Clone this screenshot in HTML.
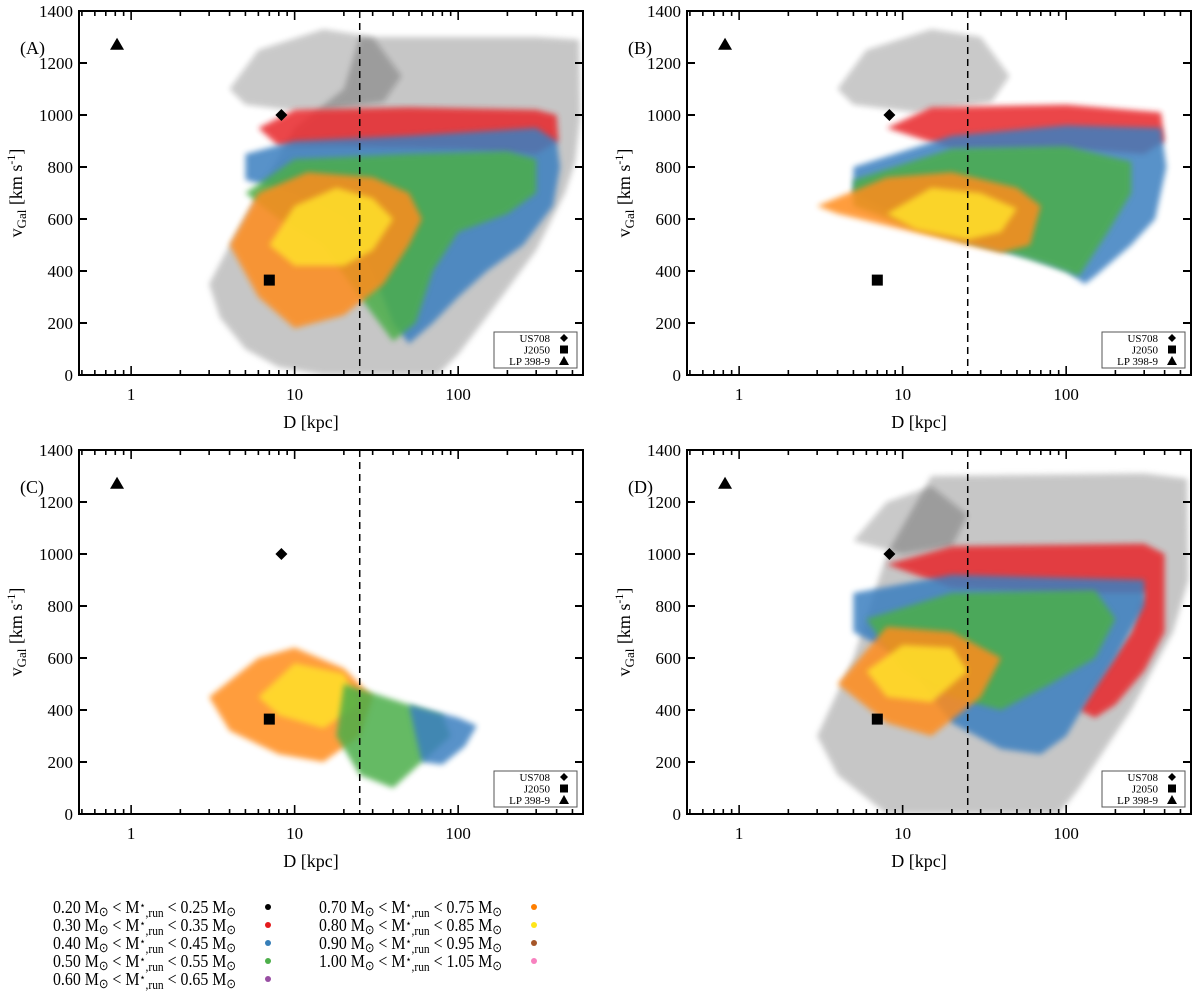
<!DOCTYPE html>
<html><head><meta charset="utf-8">
<style>
html,body{margin:0;padding:0;background:#fff;}
svg{display:block;font-family:"Liberation Serif",serif;}
</style></head>
<body>
<svg id="chart" width="1200" height="993" viewBox="0 0 1200 993" xmlns="http://www.w3.org/2000/svg">
<defs>
<filter id="soft" x="-10%" y="-10%" width="120%" height="120%"><feGaussianBlur stdDeviation="3"/></filter>
</defs>
</svg>
<script>
// ---- data (D in kpc, v in km/s) ----
const yTicks = [0,200,400,600,800,1000,1200,1400];
const xMajor = [1,10,100];
const xMajorLabels = ["1","10","100"];
const panelLabels = ["(A)","(B)","(C)","(D)"];
const starNames = ["US708","J2050","LP 398-9"];
const starD = [8.3, 7.0, 0.82];
const starV = [1000, 365, 1270];
const cutD = 25;

const colors = {grey:"#bdbdbd",black:"#111",red:"#e8262a",blue:"#3a7fc0",green:"#4cae4a",orange:"#ff8c1a",yellow:"#ffe02a"};

// Panel A clouds
const A_grey = [[25,1300],[300,1300],[550,1290],[560,1000],[520,820],[450,700],[300,480],[200,330],[140,200],[100,80],[75,0],[15,0],[8,30],[5,100],[3.5,220],[3,350],[4,500],[6,700],[10,950],[20,1100]];
const A_black = [[4,1100],[6,1250],[15,1330],[30,1300],[45,1150],[35,1050],[12,1010],[5,1040]];
const A_red = [[6,950],[10,1020],[50,1030],[300,1020],[400,1000],[410,900],[300,850],[100,870],[20,880],[8,880]];
const A_blue = [[5,850],[10,900],[50,920],[300,950],[400,900],[420,800],[380,650],[250,500],[150,400],[100,300],[70,200],[50,120],[40,200],[30,400],[20,600],[10,700],[5,750]];
const A_green = [[5,700],[10,830],[50,850],[200,860],[300,830],[300,700],[200,620],[100,550],[70,400],[55,200],[40,130],[25,300],[15,500],[8,600]];
const A_orange = [[4,500],[6,700],[12,780],[30,760],[50,700],[60,600],[50,500],[35,350],[20,230],[10,180],[6,300]];
const A_yellow = [[7,500],[10,650],[18,720],[30,680],[40,600],[30,480],[20,420],[10,420]];

// Panel B clouds
const B_black = [[4,1100],[6,1250],[15,1330],[30,1300],[45,1150],[35,1050],[12,1010],[5,1040]];
const B_red = [[8,950],[15,1030],[100,1040],[380,1010],[400,900],[300,850],[100,870],[20,870]];
const B_blue = [[5,800],[20,920],[100,960],[380,950],[410,800],[350,600],[250,500],[150,380],[130,350],[100,400],[60,450],[30,500],[10,600],[5,700]];
const B_green = [[5,750],[20,870],[100,880],[250,820],[250,700],[180,550],[120,380],[80,420],[40,480],[25,510],[10,580],[5,650]];
const B_orange = [[3,650],[8,760],[20,780],[50,720],[70,650],[60,500],[40,470],[25,500],[10,560],[4,620]];
const B_yellow = [[8,620],[15,720],[30,700],[50,640],[40,550],[25,520],[12,560]];

// Panel C clouds
const C_orange = [[3,450],[6,600],[10,640],[20,560],[30,450],[25,300],[15,200],[8,230],[4,320]];
const C_yellow = [[6,450],[10,580],[20,540],[25,420],[15,330],[8,380]];
const C_green = [[20,500],[40,440],[80,380],[90,300],[60,200],[40,100],[25,150],[18,300]];
const C_blue = [[50,420],[100,370],[130,340],[110,260],[80,190],[60,200],[55,300]];

// Panel D clouds
const D_grey = [[15,1300],[300,1310],[550,1290],[560,900],[450,700],[250,400],[120,100],[90,0],[8,0],[4,150],[3,300],[5,600],[8,1000]];
const D_black = [[5,1050],[8,1200],[15,1260],[25,1150],[20,1030],[10,1000]];
const D_red = [[8,960],[20,1030],[300,1040],[400,1000],[400,700],[300,550],[200,420],[150,370],[120,400],[150,500],[250,700],[300,850],[100,850],[20,870]];
const D_blue = [[5,850],[20,920],[300,900],[300,800],[200,600],[130,420],[100,300],[70,230],[40,250],[20,350],[10,600],[5,700]];
const D_green = [[6,750],[20,850],[150,860],[200,750],[150,600],[80,500],[40,400],[20,450],[10,550]];
const D_orange = [[4,500],[8,720],[20,700],[40,600],[30,450],[15,300],[8,350]];
const D_yellow = [[6,550],[10,650],[20,640],[25,550],[15,430],[8,450]];

const panelClouds = [
  [["grey",A_grey],["black",A_black],["red",A_red],["blue",A_blue],["green",A_green],["orange",A_orange],["yellow",A_yellow]],
  [["black",B_black],["red",B_red],["blue",B_blue],["green",B_green],["orange",B_orange],["yellow",B_yellow]],
  [["orange",C_orange],["yellow",C_yellow],["green",C_green],["blue",C_blue]],
  [["grey",D_grey],["black",D_black],["red",D_red],["blue",D_blue],["green",D_green],["orange",D_orange],["yellow",D_yellow]]
];

const legendLabels = ["0.20","0.30","0.40","0.50","0.60","0.70","0.80","0.90","1.00"];
const legendLabelsHi = ["0.25","0.35","0.45","0.55","0.65","0.75","0.85","0.95","1.05"];
const legendColors = ["#000","#e41a1c","#377eb8","#4daf4a","#984ea3","#ff7f00","#ffe619","#a65628","#f781bf"];

// ---- layout ----
const NS="http://www.w3.org/2000/svg";
const svg=document.getElementById('chart');
const panels=[{x:79,y:11},{x:687,y:11},{x:79,y:450},{x:687,y:450}];
const W=504,H=364;
const DMIN=0.48, DMAX=580;
function mk(tag,attrs,parent){const e=document.createElementNS(NS,tag);for(const k in attrs)e.setAttribute(k,attrs[k]);(parent||svg).appendChild(e);return e;}
function xs(p,D){return p.x+(Math.log10(D)-Math.log10(DMIN))/(Math.log10(DMAX)-Math.log10(DMIN))*W;}
function ys(p,v){return p.y+H-v/1400*H;}

panels.forEach((p,i)=>{
  const g=mk('g',{});
  
  
  const cp=mk('clipPath',{id:'cp'+i},g);
  mk('rect',{x:p.x,y:p.y,width:W,height:H},cp);
  const cg=mk('g',{'clip-path':'url(#cp'+i+')'},g);
  panelClouds[i].forEach(([c,pts])=>{
    const d=pts.map((q,k)=>(k?'L':'M')+xs(p,q[0]).toFixed(1)+','+ys(p,q[1]).toFixed(1)).join('')+'Z';
    const el=mk('path',{d:d,fill:colors[c],opacity:c==='black'?0.22:0.85,filter:'url(#soft)'},cg);
    
    
  });
  const dl=mk('line',{x1:xs(p,cutD),x2:xs(p,cutD),y1:p.y,y2:p.y+H,stroke:'#000','stroke-width':1.5,'stroke-dasharray':'7,5'},g);
  
  
  mk('rect',{x:p.x,y:p.y,width:W,height:H,fill:'none',stroke:'#000','stroke-width':2},g);
  yTicks.forEach(v=>{
    const y=ys(p,v);
    mk('line',{x1:p.x,x2:p.x+8,y1:y,y2:y,stroke:'#000','stroke-width':2},g);
    mk('line',{x1:p.x+W,x2:p.x+W-8,y1:y,y2:y,stroke:'#000','stroke-width':2},g);
    const t=mk('text',{x:p.x-6,y:y+6,'text-anchor':'end','font-size':17},g);t.textContent=v;
    
    
  });
  for(let e=-1;e<=2;e++){for(let m=1;m<=9;m++){const D=m*Math.pow(10,e);if(D<DMIN||D>DMAX)continue;const x=xs(p,D);const L=m===1?9:5;
    mk('line',{x1:x,x2:x,y1:p.y+H,y2:p.y+H-L,stroke:'#000','stroke-width':1.6},g);
    mk('line',{x1:x,x2:x,y1:p.y,y2:p.y+L,stroke:'#000','stroke-width':1.6},g);}}
  xMajor.forEach((D,k)=>{const t=mk('text',{x:xs(p,D),y:p.y+H+25,'text-anchor':'middle','font-size':17},g);t.textContent=xMajorLabels[k];
    
    });
  const xl=mk('text',{x:p.x+W/2-20,y:p.y+H+53,'text-anchor':'middle','font-size':18},g);xl.textContent='D [kpc]';
  
  
  const yl=mk('text',{transform:`translate(${p.x-57},${p.y+182}) rotate(-90)`,'text-anchor':'middle','font-size':18},g);
  yl.innerHTML='v<tspan font-size="13" dy="4">Gal</tspan><tspan dy="-4"> [km s</tspan><tspan font-size="12" dy="-7">-1</tspan><tspan dy="7">]</tspan>';
  
  
  const pl=mk('text',{x:p.x-59,y:p.y+43,'font-size':18},g);pl.textContent=panelLabels[i];
  
  
  const sx=starD.map(D=>xs(p,D)), sy=starV.map(v=>ys(p,v));
  const s1=mk('path',{d:`M${sx[0]},${sy[0]-6}L${sx[0]+6},${sy[0]}L${sx[0]},${sy[0]+6}L${sx[0]-6},${sy[0]}Z`,fill:'#000'},g);
  
  
  const s2=mk('rect',{x:sx[1]-5.5,y:sy[1]-5.5,width:11,height:11,fill:'#000'},g);
  
  
  const s3=mk('path',{d:`M${sx[2]},${sy[2]-7}L${sx[2]+7},${sy[2]+5}L${sx[2]-7},${sy[2]+5}Z`,fill:'#000'},g);
  
  
  const lg=mk('g',{},g);
  
  
  const lx=p.x+415, ly=p.y+321;
  mk('rect',{x:lx,y:ly,width:83,height:36,fill:'#fff',stroke:'#555','stroke-width':1},lg);
  starNames.forEach((n,k)=>{const t=mk('text',{x:lx+56,y:ly+10+k*11.5,'text-anchor':'end','font-size':11},lg);t.textContent=n;
    
    
    const cx=lx+70, cy=ly+6+k*11.5;
    if(k===0)mk('path',{d:`M${cx},${cy-4}L${cx+4},${cy}L${cx},${cy+4}L${cx-4},${cy}Z`},lg);
    if(k===1)mk('rect',{x:cx-4,y:cy-4,width:8,height:8},lg);
    if(k===2)mk('path',{d:`M${cx},${cy-5}L${cx+5},${cy+4}L${cx-5},${cy+4}Z`},lg);
  });
});

// mass legend
const ml=mk('g',{});


legendLabels.forEach((lo,k)=>{
  const col=k<5?0:1,row=k<5?k:k-5;
  const x=col?319:53, dy=907+row*18;
  const t=mk('text',{x:x,y:dy+6,'font-size':18,textLength:183,lengthAdjust:'spacingAndGlyphs'},ml);
  t.innerHTML=`${lo} M<tspan font-size="13" dy="3">⊙</tspan><tspan dy="-3"> &lt; M</tspan><tspan font-size="11" dy="-4">⋆</tspan><tspan font-size="13" dy="8">,run</tspan><tspan dy="-4"> &lt; ${legendLabelsHi[k]} M</tspan><tspan font-size="13" dy="3">⊙</tspan>`;
  
  
  const c=mk('circle',{cx:col?534:268,cy:dy,r:3,fill:legendColors[k]},ml);
  
  
});
</script>
</body></html>
